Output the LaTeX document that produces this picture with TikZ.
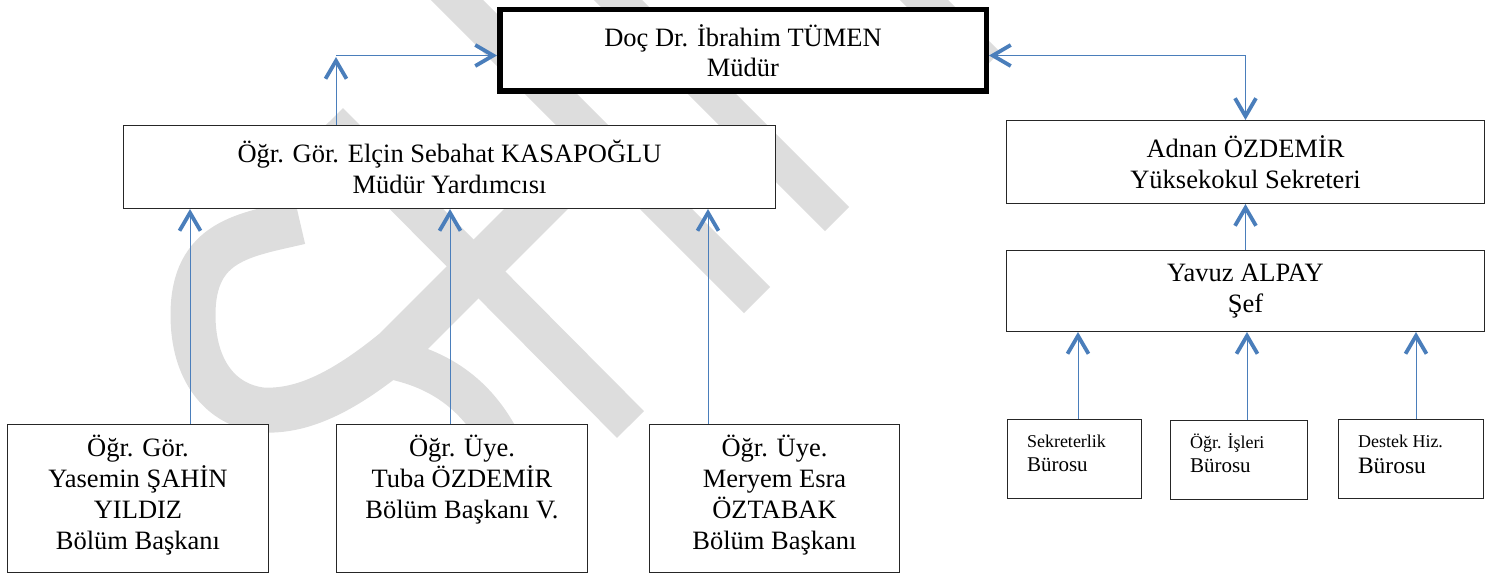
\documentclass[tikz,border=0pt]{standalone}
\usepackage{fontspec}
\setmainfont{Liberation Serif}
\usetikzlibrary{arrows.meta}
\definecolor{wmgray}{RGB}{221,221,221}
\definecolor{cblue}{RGB}{74,126,187}
\begin{document}
\begin{tikzpicture}[x=1pt,y=-1pt,
  >={Straight Barb[length=18pt,width=21pt,line width=3.8pt 0]},
  wm/.style={draw=wmgray, line cap=butt, line join=round},
  box/.style={draw=black!85, line width=1.4pt, fill=white, inner sep=0pt, align=center,
              font=\fontsize{26.5}{30.5}\selectfont},
  lbox/.style={draw=black!85, line width=1.4pt, fill=white, inner sep=0pt,
              font=\fontsize{26.5}{31}\selectfont},
  sbox/.style={draw=black!85, line width=1.4pt, fill=white, inner sep=0pt},
  conn/.style={draw=cblue, line width=0.85pt}
]
\useasboundingbox (0,0) rectangle (1488,575);
% watermark
\begin{scope}
\clip (0,0) rectangle (1488,575);
\draw[wm, line width=38pt] (329.5,121.5) -- (630.5,424.5);
\draw[wm, line width=37pt] (407,-50) -- (757,300);
\draw[wm, line width=34pt] (568,-50) -- (837,219);
\draw[wm, line width=34pt] (874,-50) -- (988,64);
\draw[wm, line width=45pt] (300,222) .. controls (245,235) and (193,240) .. (193,315)
   .. controls (193,370) and (220,405) .. (262,410)
   .. controls (300,412) and (340,395) .. (395,350) -- (560,185);
\draw[wm, line width=40pt] (395,360) .. controls (440,370) and (480,395) .. (505,450);
\end{scope}
% nodes
\node[box, draw=black, line width=5.5pt, minimum width=486.5pt, minimum height=81.5pt] (mudur) at (743,50.5)
  {Doç Dr. İbrahim TÜMEN\\Müdür};
\node[box, minimum width=651.6pt, minimum height=82.6pt] (kasa) at (449.5,167)
  {Öğr. Gör. Elçin Sebahat KASAPOĞLU\\Müdür Yardımcısı};
\node[box, minimum width=477.6pt, minimum height=82.6pt] (adnan) at (1245.5,162)
  {Adnan ÖZDEMİR\\Yüksekokul Sekreteri};
\node[box, minimum width=477.6pt, minimum height=80.6pt] (yavuz) at (1245.5,291)
  {Yavuz ALPAY\\Şef};
\node[lbox, minimum width=260.6pt, minimum height=147.6pt] (l1) at (138,498.5)
  {\parbox[c][147pt][t]{250pt}{\centering\rule{0pt}{31pt}Öğr. Gör.\\Yasemin ŞAHİN\\YILDIZ\\Bölüm Başkanı}};
\node[lbox, minimum width=250.6pt, minimum height=147.6pt] (l2) at (462,498.5)
  {\parbox[c][147pt][t]{240pt}{\centering\rule{0pt}{31pt}Öğr. Üye.\\Tuba ÖZDEMİR\\Bölüm Başkanı V.}};
\node[lbox, minimum width=249.6pt, minimum height=147.6pt] (l3) at (774.5,498.5)
  {\parbox[c][147pt][t]{240pt}{\centering\rule{0pt}{31pt}Öğr. Üye.\\ Meryem Esra\\ÖZTABAK\\Bölüm Başkanı}};
\node[sbox, minimum width=133.6pt, minimum height=78.6pt] (s1) at (1074.5,459)
  {\parbox[c][78pt][t]{95pt}{\raggedright\fontsize{18}{18}\selectfont\rule{0pt}{27pt}Sekreterlik\\\fontsize{21}{24}\selectfont Bürosu}};
\node[sbox, minimum width=136.6pt, minimum height=78.6pt] (s2) at (1239,460)
  {\parbox[c][78pt][t]{98pt}{\raggedright\fontsize{18}{18}\selectfont\rule{0pt}{27pt}Öğr. İşleri\\\fontsize{21}{24}\selectfont Bürosu}};
\node[sbox, minimum width=144.6pt, minimum height=78.6pt] (s3) at (1411,459)
  {\parbox[c][78pt][t]{106pt}{\raggedright\fontsize{18}{18}\selectfont\rule{0pt}{27pt}Destek Hiz.\\\fontsize{23.5}{26}\selectfont Bürosu}};
% connector coordinates
\coordinate (kup) at (336,57);
\coordinate (kc) at (336,55.5);
\coordinate (x1) at (190,0);
\coordinate (x2) at (450,0);
\coordinate (x3) at (708,0);
\coordinate (y1) at (1078,0);
\coordinate (y2) at (1247,0);
\coordinate (y3) at (1416,0);
% connectors
\draw[conn,->] (kasa.north -| kup) -- (kup);
\draw[conn,->] (kc) -- (kc -| mudur.west);
\draw[conn,<->] ([yshift=-5pt]mudur.east) -| (adnan.north);
\draw[conn,->] (yavuz.north) -- (adnan.south);
\draw[conn,->] (x1 |- l1.north) -- (x1 |- kasa.south);
\draw[conn,->] (x2 |- l2.north) -- (x2 |- kasa.south);
\draw[conn,->] (x3 |- l3.north) -- (x3 |- kasa.south);
\draw[conn,->] (y1 |- s1.north) -- (y1 |- yavuz.south);
\draw[conn,->] (y2 |- s2.north) -- (y2 |- yavuz.south);
\draw[conn,->] (y3 |- s3.north) -- (y3 |- yavuz.south);
\end{tikzpicture}
\end{document}
